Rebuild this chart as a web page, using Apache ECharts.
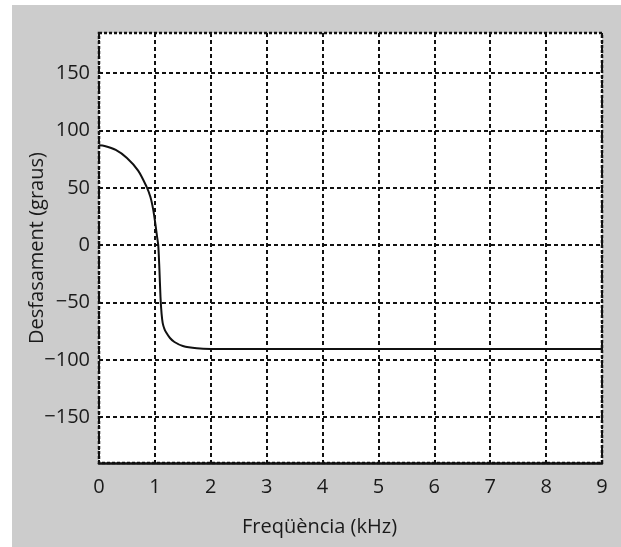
<!DOCTYPE html>
<html>
<head>
<meta charset="utf-8">
<script src="https://cdn.jsdelivr.net/npm/echarts@6/dist/echarts.min.js"></script>
<style>
  html, body { margin: 0; padding: 0; background: #ffffff; }
  #chart { position: absolute; left: 12px; top: 5px; width: 609px; height: 542px; background: #cccccc; }
</style>
</head>
<body>
<div id="chart"></div>
<script>
// Phase response of the filter: frequency (kHz) vs phase shift (degrees)
const freqKHz = [0, 0.1, 0.3, 0.5, 0.7, 0.85, 0.92, 0.97, 1.01, 1.04, 1.06, 1.08, 1.1, 1.12, 1.14, 1.17, 1.2, 1.27, 1.35, 1.5, 1.75, 2.0, 3, 4, 5, 6, 7, 8, 9];
const phaseDeg = [87, 86.5, 83, 76, 65, 51, 42, 31, 18, 7, 0, -20, -45, -60, -68, -73, -76, -81, -84.5, -88, -90, -90.5, -90.5, -90.5, -90.5, -90.5, -90.5, -90.5, -90.5];
const yTicks = [-150, -100, -50, 0, 50, 100, 150];
const xTicks = [0, 1, 2, 3, 4, 5, 6, 7, 8, 9];

const points = freqKHz.map((f, i) => [f, phaseDeg[i]]);
const minus = v => String(v).replace('-', '\u2212');
const font = 'Open Sans, Noto Sans, sans-serif';

const chart = echarts.init(document.getElementById('chart'), null, { renderer: 'canvas' });
chart.setOption({
  animation: false,
  grid: {
    left: 87, right: 19, top: 28, bottom: 84,
    outerBoundsMode: 'none',
    containLabel: false,
    show: true,
    backgroundColor: '#ffffff',
    borderColor: '#111111',
    borderWidth: 2.5,
    borderType: [3, 2]
  },
  xAxis: {
    type: 'value',
    min: 0, max: 9, interval: 1,
    name: 'Freqüència (kHz)',
    nameLocation: 'middle',
    nameGap: 54,
    nameMoveOverlap: false,
    nameTextStyle: { fontFamily: font, fontSize: 20, color: '#1a1a1a', padding: [0, 62, 0, 0] },
    axisLine: { show: true, onZero: false, lineStyle: { color: '#111', width: 2.5 } },
    axisTick: { show: false },
    axisLabel: {
      customValues: xTicks,
      fontFamily: font, fontSize: 20, color: '#1a1a1a', margin: 14
    },
    splitLine: { show: true, lineStyle: { color: '#111', width: 2, type: [4, 3] } }
  },
  yAxis: {
    type: 'value',
    min: -190, max: 185,
    name: 'Desfasament (graus)',
    nameLocation: 'middle',
    nameGap: 52,
    nameMoveOverlap: false,
    nameTextStyle: { fontFamily: font, fontSize: 20, color: '#1a1a1a' },
    axisLine: { show: false },
    axisTick: { show: false, customValues: yTicks },
    axisLabel: {
      customValues: yTicks,
      formatter: minus,
      fontFamily: font, fontSize: 20, color: '#1a1a1a', margin: 9
    },
    splitLine: { show: true, lineStyle: { color: '#111', width: 2, type: [4, 3] } }
  },
  series: [{
    type: 'line',
    data: points,
    showSymbol: false,
    smooth: 0.3,
    lineStyle: { color: '#111', width: 2 },
    z: 5
  }]
});
</script>
</body>
</html>
